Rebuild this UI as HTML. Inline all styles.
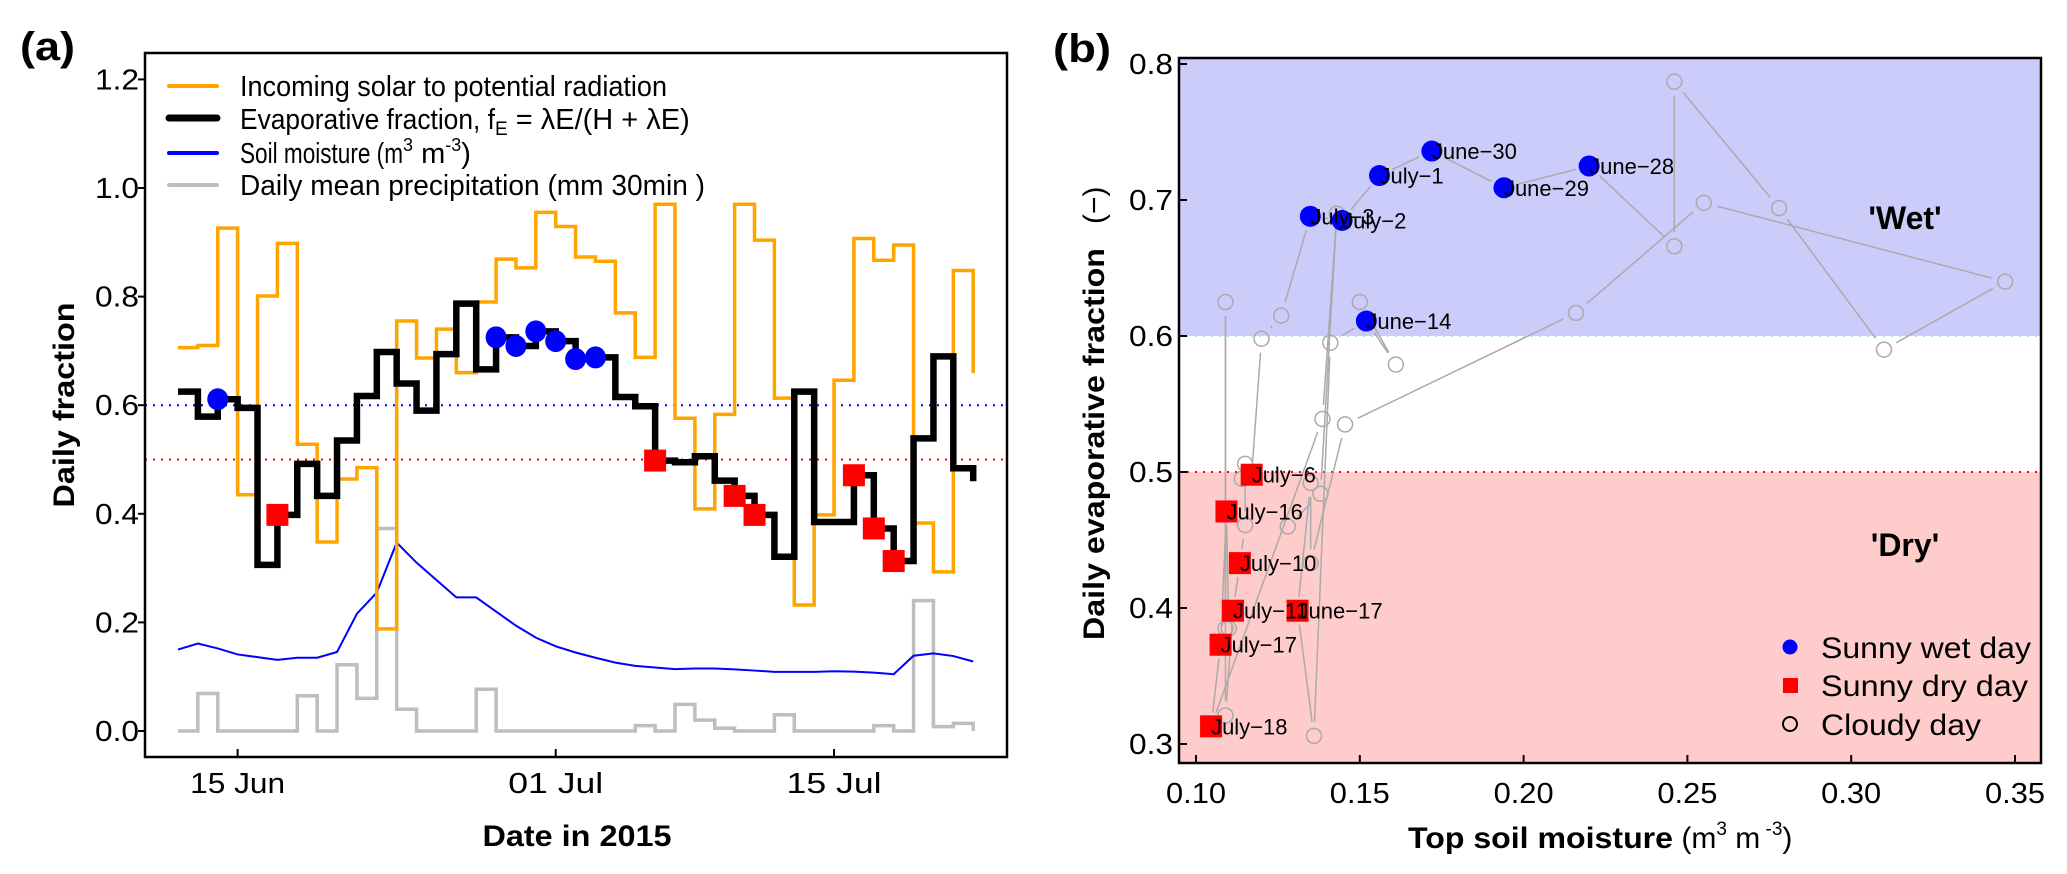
<!DOCTYPE html>
<html><head><meta charset="utf-8">
<style>
html,body{margin:0;padding:0;background:#fff;}
svg{display:block;font-family:"Liberation Sans",Arial,sans-serif;}
</style></head>
<body>
<svg id="fig" xmlns="http://www.w3.org/2000/svg" width="2067" height="874" viewBox="0 0 2067 874">
  <rect x="0" y="0" width="2067" height="874" fill="#fff"/>
  <g id="pa"></g>
  <g id="pb"></g>
</svg>
<script>
// ---- data (day 0 = 12 June 2015) ----
const ratioSolar = [0.706,0.71,0.926,0.435,0.801,0.898,0.528,0.348,0.464,0.485,0.188,0.755,0.687,0.74,0.66,0.79,0.869,0.853,0.955,0.929,0.873,0.865,0.77,0.688,0.97,0.576,0.409,0.583,0.97,0.904,0.613,0.232,0.398,0.646,0.907,0.867,0.895,0.383,0.293,0.848,0.659];
const evapFraction = [0.625,0.579,0.611,0.595,0.306,0.398,0.492,0.433,0.535,0.617,0.698,0.640,0.590,0.694,0.787,0.666,0.725,0.709,0.736,0.718,0.685,0.688,0.615,0.598,0.498,0.495,0.506,0.461,0.433,0.398,0.321,0.625,0.385,0.385,0.471,0.373,0.313,0.539,0.690,0.484,0.460];
const soilMoisture = [0.150,0.161,0.152,0.141,0.136,0.131,0.135,0.135,0.1455,0.216,0.255,0.347,0.310,0.278,0.246,0.246,0.220,0.194,0.172,0.156,0.1446,0.1349,0.126,0.120,0.117,0.114,0.115,0.115,0.1134,0.1113,0.109,0.109,0.109,0.110,0.1093,0.1075,0.1046,0.1386,0.143,0.138,0.128];
const precipitation = [0,0.069,0,0,0,0,0.065,0,0.122,0.06,0.373,0.04,0,0,0,0.077,0,0,0,0,0,0,0,0.01,0,0.049,0.02,0.005,0,0,0.03,0,0,0,0,0.01,0,0.24,0.008,0.014,0];
const wetDays = [2,16,17,18,19,20,21];
const wetLabels = ["June-14","June-28","June-29","June-30","July-1","July-2","July-3"];
const dryDays = [5,24,28,29,34,35,36];
const dryLabels = ["June-17","July-6","July-10","July-11","July-16","July-17","July-18"];
const aYTicks = [0,0.2,0.4,0.6,0.8,1.0,1.2];
const aYTickLabels = ["0.0","0.2","0.4","0.6","0.8","1.0","1.2"];
const aXTickDays = [3,19,33];
const aXTickLabels = ["15 Jun","01 Jul","15 Jul"];
const bXTicks = [0.10,0.15,0.20,0.25,0.30,0.35];
const bXTickLabels = ["0.10","0.15","0.20","0.25","0.30","0.35"];
const bYTicks = [0.3,0.4,0.5,0.6,0.7,0.8];
const bYTickLabels = ["0.3","0.4","0.5","0.6","0.7","0.8"];

const NS = "http://www.w3.org/2000/svg";
function mk(tag, attrs, parent){
  const e = document.createElementNS(NS, tag);
  for (const k in attrs) e.setAttribute(k, attrs[k]);
  parent.appendChild(e);
  return e;
}
const pa = document.getElementById('pa');
const pb = document.getElementById('pb');

// ---- panel a scales ----
const A = {l:145, t:53, r:1007, b:757};
const ax = d => 178 + d*19.88;
const ay = v => 731 - v*543;

function stepPath(vals){
  let p = `M${ax(0)},${ay(vals[0])}`;
  for (let i=1;i<vals.length;i++){ p += ` H${ax(i)} V${ay(vals[i])}`; }
  return p;
}

// reference lines
let e = mk('line',{x1:A.l,x2:A.r,y1:ay(0.6),y2:ay(0.6),stroke:'#0000ff','stroke-width':2,'stroke-dasharray':'2 6'},pa);


e = mk('line',{x1:A.l,x2:A.r,y1:ay(0.5),y2:ay(0.5),stroke:'#ff0000','stroke-width':2,'stroke-dasharray':'2 6'},pa);



// precipitation
e = mk('path',{d:stepPath(precipitation),fill:'none',stroke:'#bebebe','stroke-width':3.5},pa);


// soil moisture
e = mk('path',{d:soilMoisture.map((v,i)=>(i?'L':'M')+ax(i)+','+ay(v)).join(' '),fill:'none',stroke:'#0000ff','stroke-width':2},pa);


// solar ratio
e = mk('path',{d:stepPath(ratioSolar),fill:'none',stroke:'#ffa500','stroke-width':3.5},pa);


// evaporative fraction
e = mk('path',{d:stepPath(evapFraction),fill:'none',stroke:'#000','stroke-width':6.5,'stroke-linejoin':'miter'},pa);



// markers a
wetDays.forEach(d=>{
  const c = mk('ellipse',{cx:ax(d),cy:ay(evapFraction[d]),rx:10.5,ry:11,fill:'#0000ff'},pa);
  
  
});
dryDays.forEach(d=>{
  const s = mk('rect',{x:ax(d)-11,y:ay(evapFraction[d])-11,width:22,height:22,fill:'#ff0000'},pa);
  
  
});

// axes a
e = mk('rect',{x:A.l,y:A.t,width:A.r-A.l,height:A.b-A.t,fill:'none',stroke:'#000','stroke-width':2.5},pa);


aYTicks.forEach((v,i)=>{
  const t = mk('line',{x1:A.l-7,x2:A.l,y1:ay(v),y2:ay(v),stroke:'#000','stroke-width':2},pa);
  
  
  const l = mk('text',{x:A.l-6,y:ay(v)+10,'text-anchor':'end','font-size':29,textLength:44,lengthAdjust:'spacingAndGlyphs'},pa);
  l.textContent = aYTickLabels[i];
  
  
});
aXTickDays.forEach((d,i)=>{
  const t = mk('line',{x1:ax(d),x2:ax(d),y1:A.b-8,y2:A.b,stroke:'#000','stroke-width':2},pa);
  
  
  const l = mk('text',{x:ax(d),y:793,'text-anchor':'middle','font-size':29,textLength:95,lengthAdjust:'spacingAndGlyphs'},pa);
  l.textContent = aXTickLabels[i];
  
  
});
e = mk('text',{x:577,y:846,'text-anchor':'middle','font-size':30,'font-weight':'bold',textLength:189,lengthAdjust:'spacingAndGlyphs'},pa);
e.textContent = 'Date in 2015';


e = mk('text',{x:0,y:0,'text-anchor':'middle','font-size':30,'font-weight':'bold',transform:'translate(74,405) rotate(-90)',textLength:205,lengthAdjust:'spacingAndGlyphs'},pa);
e.textContent = 'Daily fraction';


e = mk('text',{x:20,y:60,'font-size':40,'font-weight':'bold',textLength:55,lengthAdjust:'spacingAndGlyphs'},pa);
e.textContent = '(a)';



// legend a
const legA = mk('g',{},pa);


const legItems = [
  {c:'#ffa500',w:4,y:86,len:427},
  {c:'#000',w:7,y:118,len:457},
  {c:'#0000ff',w:4,y:153,len:276},
  {c:'#bebebe',w:4,y:185,len:465}
];
legItems.forEach((it,i)=>{
  const ln = mk('line',{x1:169,x2:217,y1:it.y,y2:it.y,stroke:it.c,'stroke-width':it.w,'stroke-linecap':'round'},legA);
  
  
});
let lt = mk('text',{x:240,y:96,'font-size':29,textLength:427,lengthAdjust:'spacingAndGlyphs'},legA);
lt.textContent = 'Incoming solar to potential radiation';


lt = mk('text',{x:240,y:129,'font-size':29},legA);
lt.innerHTML = '<tspan textLength="255" lengthAdjust="spacingAndGlyphs">Evaporative fraction, f</tspan><tspan font-size="19" dy="6">E</tspan><tspan dy="-6"> = λE/(H + λE)</tspan>';


lt = mk('text',{x:240,y:163,'font-size':29},legA);
lt.innerHTML = '<tspan textLength="163" lengthAdjust="spacingAndGlyphs">Soil moisture (m</tspan><tspan font-size="18" dy="-12">3</tspan><tspan dy="12">  m</tspan><tspan font-size="18" dy="-12">-3</tspan><tspan dy="12">)</tspan>';


lt = mk('text',{x:240,y:195,'font-size':29,textLength:465,lengthAdjust:'spacingAndGlyphs'},legA);
lt.textContent = 'Daily mean precipitation (mm 30min   )';



// ---- panel b ----
const B = {l:1179, t:58, r:2041, b:763};
const bx = v => 1196 + (v-0.10)*3276;
const by = v => 744 - (v-0.3)*1360;

e = mk('rect',{x:B.l,y:B.t,width:B.r-B.l,height:by(0.6)-B.t,fill:'#ccccfa'},pb);


e = mk('rect',{x:B.l,y:by(0.5),width:B.r-B.l,height:B.b-by(0.5),fill:'#ffcccc'},pb);


e = mk('line',{x1:B.l,x2:B.r,y1:by(0.6),y2:by(0.6),stroke:'#9ee6f0','stroke-width':2,'stroke-dasharray':'2 6'},pb);


e = mk('line',{x1:B.l,x2:B.r,y1:by(0.5),y2:by(0.5),stroke:'#ff0000','stroke-width':2,'stroke-dasharray':'2 6'},pb);



// connecting lines (type "b" with gaps)
for (let i=0;i<soilMoisture.length-1;i++){
  const x1=bx(soilMoisture[i]), y1=by(evapFraction[i]), x2=bx(soilMoisture[i+1]), y2=by(evapFraction[i+1]);
  const L = Math.hypot(x2-x1,y2-y1), g=14;
  if (L <= 2*g) continue;
  const ux=(x2-x1)/L, uy=(y2-y1)/L;
  const s = mk('line',{x1:x1+ux*g,y1:y1+uy*g,x2:x2-ux*g,y2:y2-uy*g,stroke:'#aaaaaa','stroke-width':1.5},pb);
  
  
}
// cloudy circles
soilMoisture.forEach((v,i)=>{
  if (wetDays.includes(i) || dryDays.includes(i)) return;
  const c = mk('circle',{cx:bx(v),cy:by(evapFraction[i]),r:7.5,fill:'none',stroke:'#aaaaaa','stroke-width':1.5},pb);
  
  
});
wetDays.forEach((d,i)=>{
  const c = mk('circle',{cx:bx(soilMoisture[d]),cy:by(evapFraction[d]),r:10.5,fill:'#0000ff'},pb);
  
  
});
dryDays.forEach((d,i)=>{
  const s = mk('rect',{x:bx(soilMoisture[d])-11,y:by(evapFraction[d])-11,width:22,height:22,fill:'#ff0000'},pb);
  
  
});
wetDays.forEach((d,i)=>{
  const t = mk('text',{x:bx(soilMoisture[d]),y:by(evapFraction[d])+8,'font-size':22},pb);
  t.textContent = wetLabels[i].replace('-','\u2212');
  
  
});
dryDays.forEach((d,i)=>{
  const t = mk('text',{x:bx(soilMoisture[d]),y:by(evapFraction[d])+8,'font-size':22},pb);
  t.textContent = dryLabels[i].replace('-','\u2212');
  
  
});

e = mk('text',{x:1905,y:229,'text-anchor':'middle','font-size':32,'font-weight':'bold'},pb);
e.textContent = "'Wet'";


e = mk('text',{x:1905,y:556,'text-anchor':'middle','font-size':32,'font-weight':'bold'},pb);
e.textContent = "'Dry'";



// legend b
const legB = mk('g',{},pb);


e = mk('circle',{cx:1790,cy:647,r:7.5,fill:'#0000ff'},legB);


e = mk('rect',{x:1783,y:678,width:15,height:15,fill:'#ff0000'},legB);


e = mk('circle',{cx:1790,cy:724,r:7,fill:'none',stroke:'#000','stroke-width':2},legB);


[['Sunny wet day',658,210],['Sunny dry day',696,207],['Cloudy day',735,160]].forEach(a=>{
  const t = mk('text',{x:1821,y:a[1],'font-size':30,textLength:a[2],lengthAdjust:'spacingAndGlyphs'},legB);
  t.textContent = a[0];
  
  
});

// axes b
e = mk('rect',{x:B.l,y:B.t,width:B.r-B.l,height:B.b-B.t,fill:'none',stroke:'#000','stroke-width':2.5},pb);


bXTicks.forEach((v,i)=>{
  const t = mk('line',{x1:bx(v),x2:bx(v),y1:B.b-8,y2:B.b,stroke:'#000','stroke-width':2},pb);
  
  
  const l = mk('text',{x:bx(v),y:803,'text-anchor':'middle','font-size':29,textLength:60,lengthAdjust:'spacingAndGlyphs'},pb);
  l.textContent = bXTickLabels[i];
  
  
});
bYTicks.forEach((v,i)=>{
  const t = mk('line',{x1:B.l,x2:B.l+8,y1:by(v),y2:by(v),stroke:'#000','stroke-width':2},pb);
  
  
  const l = mk('text',{x:1173,y:by(v)+10,'text-anchor':'end','font-size':29,textLength:44,lengthAdjust:'spacingAndGlyphs'},pb);
  l.textContent = bYTickLabels[i];
  
  
});
e = mk('text',{x:1408,y:848,'font-size':30},pb);
e.innerHTML = '<tspan font-weight="bold" textLength="265" lengthAdjust="spacingAndGlyphs">Top soil moisture</tspan><tspan> (m</tspan><tspan font-size="19" dy="-13">3</tspan><tspan dy="13">  m</tspan><tspan font-size="19" dy="-13"> -3</tspan><tspan dy="13">)</tspan>';


e = mk('text',{x:0,y:0,'font-size':30,transform:'translate(1104,640) rotate(-90)'},pb);
e.innerHTML = '<tspan font-weight="bold" textLength="392" lengthAdjust="spacingAndGlyphs">Daily evaporative fraction</tspan><tspan dx="24">(\u2212)</tspan>';


e = mk('text',{x:1053,y:62,'font-size':40,'font-weight':'bold',textLength:58,lengthAdjust:'spacingAndGlyphs'},pb);
e.textContent = '(b)';


</script>
</body></html>
